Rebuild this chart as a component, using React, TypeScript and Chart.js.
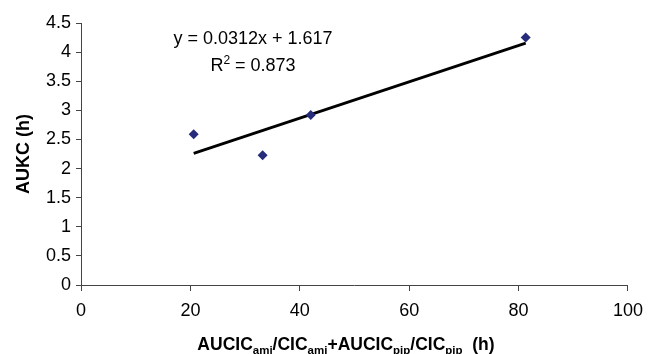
import { useEffect, useRef } from "react";
import { Chart, registerables } from "chart.js";

Chart.register(...registerables);

// Data
const xValues = [20.6, 33.2, 42.0, 81.3];
const yValues = [2.59, 2.23, 2.92, 4.25];
const trendSlope = 0.0312;
const trendIntercept = 1.617;
const rSquared = 0.873;
const xMin = 0;
const xMax = 100;
const xStep = 20;
const yMin = 0;
const yMax = 4.5;
const yStep = 0.5;
const yTitle = "AUKC (h)";
const xTitleParts: { text: string; sub: boolean }[] = [
  { text: "AUCIC", sub: false },
  { text: "ami", sub: true },
  { text: "/CIC", sub: false },
  { text: "ami", sub: true },
  { text: "+AUCIC", sub: false },
  { text: "pip", sub: true },
  { text: "/CIC", sub: false },
  { text: "pip", sub: true },
  { text: "  (h)", sub: false },
];

const FONT = '"Liberation Sans", Arial, Helvetica, sans-serif';
const AXIS_COLOR = "#444444";
const POINT_COLOR = "#262b7a";

const textPlugin = {
  id: "customTexts",
  afterDraw(chart: any) {
    const ctx = chart.ctx as CanvasRenderingContext2D;
    const area = chart.chartArea;
    ctx.save();
    ctx.fillStyle = "#000000";

    // Trendline equation
    const eq = `y = ${trendSlope}x + ${trendIntercept}`;
    ctx.font = `18px ${FONT}`;
    ctx.textAlign = "center";
    ctx.textBaseline = "middle";
    const eqX = 253;
    ctx.fillText(eq, eqX, 39);

    // R^2
    ctx.textAlign = "left";
    ctx.textBaseline = "alphabetic";
    ctx.font = `18px ${FONT}`;
    const wR = ctx.measureText("R").width;
    const rest = ` = ${rSquared}`;
    const wRest = ctx.measureText(rest).width;
    ctx.font = `12px ${FONT}`;
    const w2 = ctx.measureText("2").width;
    let x = eqX - (wR + w2 + wRest) / 2;
    const base = 71;
    ctx.font = `18px ${FONT}`;
    ctx.fillText("R", x, base);
    x += wR;
    ctx.font = `12px ${FONT}`;
    ctx.fillText("2", x, base - 7);
    x += w2;
    ctx.font = `18px ${FONT}`;
    ctx.fillText(rest, x, base);

    // Y title
    ctx.save();
    ctx.translate(24, (area.top + area.bottom) / 2);
    ctx.rotate(-Math.PI / 2);
    ctx.font = `bold 18px ${FONT}`;
    ctx.textAlign = "center";
    ctx.textBaseline = "middle";
    ctx.fillText(yTitle, 0, 0);
    ctx.restore();

    // X title with subscripts
    const mainFont = `bold 17.5px ${FONT}`;
    const subFont = `bold 11.5px ${FONT}`;
    let total = 0;
    const widths = xTitleParts.map((p) => {
      ctx.font = p.sub ? subFont : mainFont;
      const w = ctx.measureText(p.text).width;
      total += w;
      return w;
    });
    const cx = (area.left + area.right) / 2 - 8.5;
    let tx = cx - total / 2;
    const tBase = 350;
    ctx.textAlign = "left";
    ctx.textBaseline = "alphabetic";
    xTitleParts.forEach((p, i) => {
      ctx.font = p.sub ? subFont : mainFont;
      ctx.fillText(p.text, tx, p.sub ? tBase + 3.5 : tBase);
      tx += widths[i];
    });

    ctx.restore();
  },
};

export default function App() {
  const canvasRef = useRef<HTMLCanvasElement | null>(null);

  useEffect(() => {
    document.body.style.margin = "0";
    const canvas = canvasRef.current;
    if (!canvas) return;

    const points = xValues.map((v, i) => ({ x: v, y: yValues[i] }));
    const tx0 = Math.min(...xValues);
    const tx1 = Math.max(...xValues);
    const trend = [
      { x: tx0, y: trendSlope * tx0 + trendIntercept },
      { x: tx1, y: trendSlope * tx1 + trendIntercept },
    ];

    const chart = new Chart(canvas, {
      type: "scatter",
      data: {
        datasets: [
          {
            type: "line" as any,
            data: trend,
            borderColor: "#000000",
            borderWidth: 2.8,
            pointRadius: 0,
            fill: false,
            order: 2,
          },
          {
            data: points,
            pointStyle: "rectRot",
            pointRadius: 5,
            pointBackgroundColor: POINT_COLOR,
            pointBorderColor: POINT_COLOR,
            pointBorderWidth: 0,
            order: 1,
          },
        ],
      },
      options: {
        animation: false,
        responsive: false,
        maintainAspectRatio: false,
        devicePixelRatio: 1,
        layout: { padding: { top: 23, right: 16, left: 0, bottom: 0 } },
        plugins: {
          legend: { display: false },
          tooltip: { enabled: false },
          title: { display: false },
        },
        scales: {
          x: {
            type: "linear",
            min: xMin,
            max: xMax,
            afterFit: (s: any) => {
              s.height = 69;
            },
            ticks: {
              stepSize: xStep,
              color: "#000000",
              font: { family: FONT, size: 18 },
              padding: 9,
              maxRotation: 0,
              callback: (v: any) => String(v),
            },
            grid: {
              drawOnChartArea: false,
              drawTicks: true,
              tickLength: 6,
              color: AXIS_COLOR,
            },
            border: { color: AXIS_COLOR, width: 1 },
          },
          y: {
            type: "linear",
            min: yMin,
            max: yMax,
            afterFit: (s: any) => {
              s.width = 81;
            },
            ticks: {
              stepSize: yStep,
              color: "#000000",
              font: { family: FONT, size: 18 },
              padding: 5,
              callback: (v: any) => String(v),
            },
            grid: {
              drawOnChartArea: false,
              drawTicks: true,
              tickLength: 5,
              color: AXIS_COLOR,
            },
            border: { color: AXIS_COLOR, width: 1 },
          },
        },
      },
      plugins: [textPlugin],
    });

    return () => chart.destroy();
  }, []);

  return (
    <div style={{ width: 652, height: 354, background: "#ffffff" }}>
      <canvas ref={canvasRef} width={652} height={354} style={{ display: "block" }} />
    </div>
  );
}
